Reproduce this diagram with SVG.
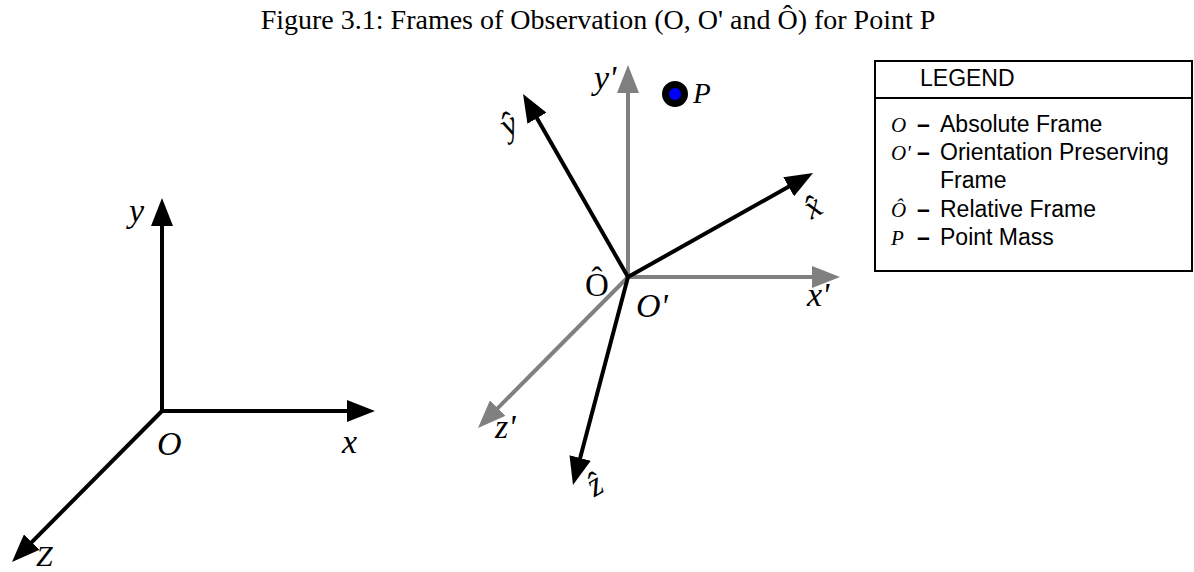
<svg xmlns="http://www.w3.org/2000/svg" width="1194" height="572" viewBox="0 0 1194 572">
<style>
.ax{stroke:#000;stroke-width:4;fill:none}
.gx{stroke:#808080;stroke-width:4;fill:none}
.lbl{font-family:"Liberation Serif",serif;font-style:italic;font-size:34px;fill:#000}
.up{font-family:"Liberation Serif",serif;font-size:33px;fill:#000}
.leg{font-family:"Liberation Sans",Arial,sans-serif;font-size:23px;fill:#000}
.dash{font-family:"Liberation Sans",Arial,sans-serif;font-size:23px;font-weight:bold;fill:#000}
.sym{font-family:"Liberation Serif",serif;font-style:italic;font-size:21px;fill:#000}
</style>
<defs>
<marker id="hb" viewBox="0 0 28 22" refX="8" refY="11" markerWidth="28" markerHeight="22" markerUnits="userSpaceOnUse" orient="auto"><path d="M0,0 L28,11 L0,22 z" fill="#000"/></marker>
<marker id="hg" viewBox="0 0 28 22" refX="8" refY="11" markerWidth="28" markerHeight="22" markerUnits="userSpaceOnUse" orient="auto"><path d="M0,0 L28,11 L0,22 z" fill="#808080"/></marker>
</defs>
<rect width="1194" height="572" fill="#fff"/>
<text x="598" y="29" text-anchor="middle" font-family="'Liberation Serif',serif" font-size="28">Figure 3.1: Frames of Observation (O, O' and Ô) for Point P</text>
<g id="connectors">
<line class="ax" x1="162" y1="411" x2="162" y2="218" marker-end="url(#hb)"/>
<line class="ax" x1="162" y1="411" x2="355" y2="411" marker-end="url(#hb)"/>
<line class="ax" x1="162" y1="411" x2="26.1" y2="547.8" marker-end="url(#hb)"/>
<line class="gx" x1="628" y1="277" x2="628" y2="85" marker-end="url(#hg)"/>
<line class="gx" x1="628" y1="277" x2="820" y2="277" marker-end="url(#hg)"/>
<line class="gx" x1="628" y1="277" x2="492.1" y2="413.8" marker-end="url(#hg)"/>
<line class="ax" x1="628" y1="277" x2="533" y2="111.3" marker-end="url(#hb)"/>
<line class="ax" x1="628" y1="277" x2="795.6" y2="182.8" marker-end="url(#hb)"/>
<line class="ax" x1="628" y1="277" x2="578.1" y2="465.7" marker-end="url(#hb)"/>
</g>
<g id="frame-O">
<text class="lbl" x="129" y="222">y</text>
<text class="lbl" x="157" y="455">O</text>
<text class="lbl" x="342" y="453">x</text>
<text class="lbl" x="36" y="566" style="font-size:30px">Z</text>
</g>
<g id="frame-Oprime">
<text class="lbl" x="594" y="89">y'</text>
<text class="lbl" x="807" y="306">x'</text>
<text class="lbl" x="495" y="438">z'</text>
<text class="lbl" x="636" y="317">O'</text>
</g>
<g id="frame-Ohat">
<text class="up" x="585" y="296">Ô</text>
<text class="lbl" transform="translate(514,134) rotate(-30)" text-anchor="middle">ŷ</text>
<text class="lbl" transform="translate(818,216) rotate(-30)" text-anchor="middle">x̂</text>
<text class="lbl" transform="translate(600,494) rotate(-30)" text-anchor="middle">ẑ</text>
</g>
<g id="point-P">
<circle cx="675" cy="94" r="9.5" fill="#0000ff" stroke="#000" stroke-width="7"/>
<text class="lbl" x="693" y="103" style="font-size:29px">P</text>
</g>
<g id="legend">
<rect x="875" y="61" width="317" height="210" fill="#fff" stroke="#000" stroke-width="2"/>
<line x1="875" y1="98" x2="1192" y2="98" stroke="#000" stroke-width="2"/>
<text class="leg" x="920" y="86">LEGEND</text>
<text class="sym" x="891" y="132">O</text>
<text class="dash" x="917" y="132">–</text><text class="leg" x="940" y="132">Absolute Frame</text>
<text class="sym" x="891" y="160">O'</text>
<text class="dash" x="917" y="160">–</text><text class="leg" x="940" y="160">Orientation Preserving</text>
<text class="leg" x="940" y="188">Frame</text>
<text class="sym" x="891" y="217">Ô</text>
<text class="dash" x="917" y="217">–</text><text class="leg" x="940" y="217">Relative Frame</text>
<text class="sym" x="891" y="245">P</text>
<text class="dash" x="917" y="245">–</text><text class="leg" x="940" y="245">Point Mass</text>
</g>
</svg>
